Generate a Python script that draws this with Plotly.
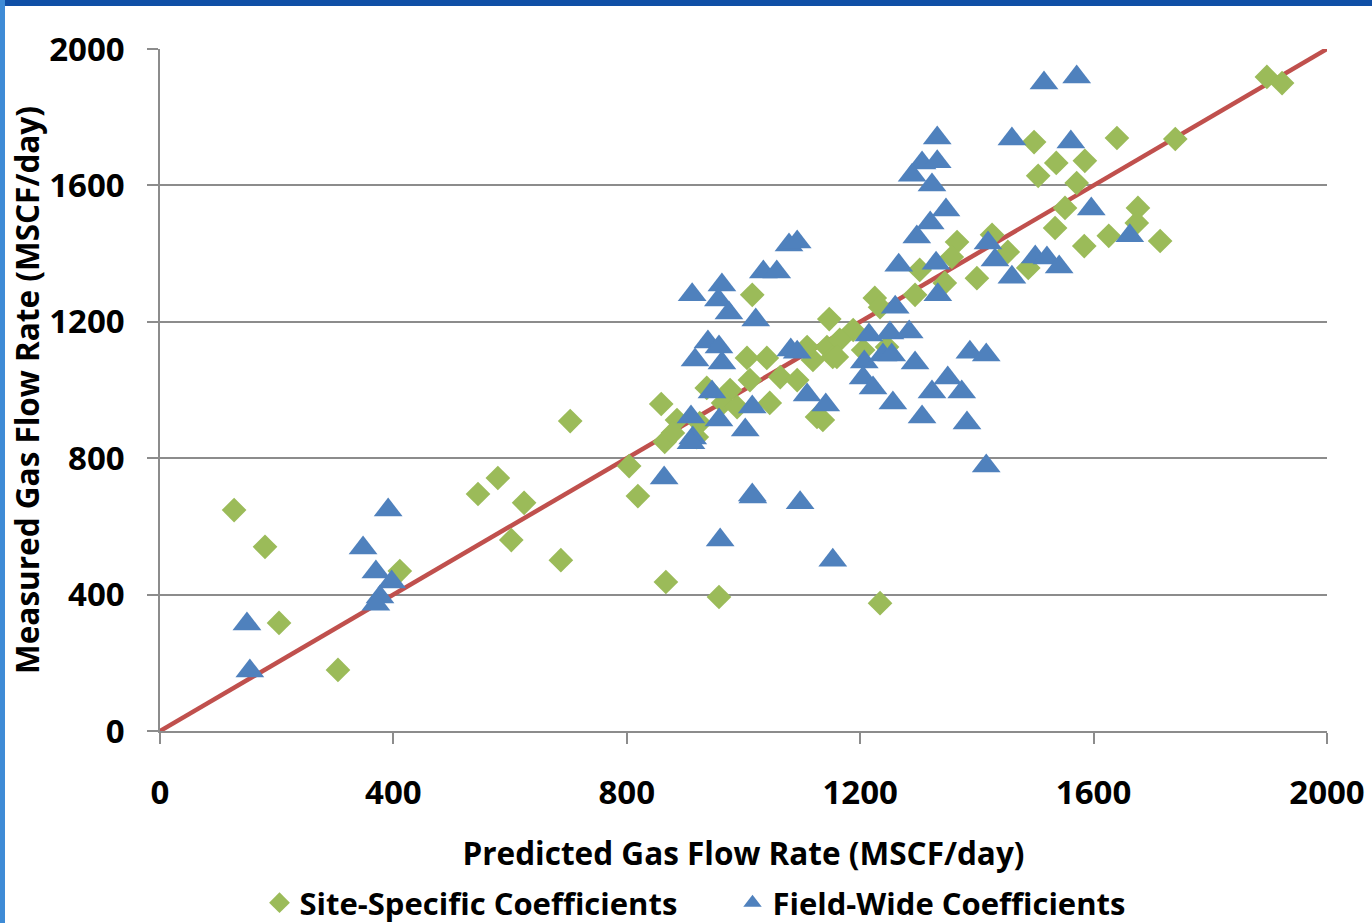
import plotly.graph_objects as go

# ---- data ----
site_x = [127, 180, 204, 305, 411, 545, 579, 624, 602, 687, 703, 804, 819, 867, 958, 1234,
          859, 865, 1015, 1147, 1045, 1126,
          1006, 1040, 1011, 977, 937, 965, 925, 886, 879, 920, 989, 1063, 1092, 1119, 1109, 1143, 1153,
          1225, 1234, 1294, 1345, 1400, 1188, 1165, 1160, 1205, 1246, 1136,
          1897, 1923, 1740, 1640, 1498, 1536, 1585, 1505, 1571, 1551, 1534, 1676, 1674, 1626, 1584, 1714,
          1366, 1426, 1453, 1357, 1302, 1488]
site_y = [648, 540, 317, 179, 469, 695, 742, 669, 560, 501, 909, 777, 689, 437, 393, 375,
          959, 848, 1279, 1208, 962, 921,
          1094, 1094, 1029, 1000, 1006, 962, 903, 912, 874, 862, 950, 1038, 1029, 1088, 1126, 1126, 1097,
          1270, 1243, 1279, 1314, 1328, 1176, 1147, 1097, 1117, 1126, 912,
          1918, 1900, 1736, 1739, 1727, 1666, 1672, 1628, 1607, 1534, 1475, 1534, 1490, 1452, 1422, 1437,
          1434, 1455, 1405, 1390, 1352, 1358]

field_x = [149, 154, 348, 370, 397, 377, 370, 391,
           912, 963, 957, 975, 1021, 1034, 1057, 1078, 1092, 1266, 1330, 1333, 1260,
           939, 958, 917, 963, 946, 910, 913, 910, 958, 1015, 1003, 1081, 1092, 1109, 1141,
           1215, 1251, 1284, 1207, 1239, 1254, 1294, 1205, 1222, 1256, 1306, 1323, 1350, 1374, 1383,
           864, 1015, 1016, 1097, 960, 1153,
           1431, 1460, 1500, 1520, 1541, 1388, 1416, 1416,
           1515, 1571, 1332, 1306, 1332, 1289, 1323, 1460, 1561, 1347, 1320, 1297, 1596, 1662, 1419]
field_y = [314, 176, 537, 466, 437, 393, 372, 648,
           1279, 1308, 1264, 1226, 1205, 1346, 1346, 1425, 1434, 1366, 1372, 1279, 1243,
           1141, 1126, 1088, 1079, 994, 921, 859, 845, 912, 950, 883, 1117, 1111, 985, 956,
           1161, 1167, 1170, 1082, 1103, 1103, 1079, 1035, 1006, 962, 921, 994, 1035, 994, 903,
           742, 692, 686, 669, 560, 501,
           1381, 1331, 1390, 1387, 1361, 1111, 1103, 777,
           1900, 1918, 1739, 1666, 1669, 1630, 1601, 1736, 1727, 1528, 1490, 1449, 1531, 1452, 1431]

line_x = [0, 2000]
line_y = [0, 2000]

x_ticks = [0, 400, 800, 1200, 1600, 2000]
y_ticks = [0, 400, 800, 1200, 1600, 2000]

GREEN = "#9BBB59"
BLUE = "#4F81BD"
RED = "#C0504D"
GRID = "#8C8C8C"
FONT = "Open Sans"

W, H = 1372, 923
ML, MR, MT, MB = 160, 45, 49, 192
pw, ph = W - ML - MR, H - MT - MB

fig = go.Figure()
fig.add_trace(go.Scatter(x=line_x, y=line_y, mode="lines",
                         line=dict(color=RED, width=4.5), showlegend=False, hoverinfo="skip"))
fig.add_trace(go.Scatter(x=site_x, y=site_y, mode="markers", name="Site-Specific Coefficients",
                         marker=dict(symbol="diamond", size=19, color=GREEN, line=dict(width=0))))
fig.add_trace(go.Scatter(x=field_x, y=field_y, mode="markers", name="Field-Wide Coefficients",
                         marker=dict(symbol="triangle-up", size=25, color=BLUE, line=dict(width=0))))

axis_font = dict(family=FONT, size=33, color="black", weight=700)
title_font = dict(family=FONT, size=31.5, color="black", weight=700)

fig.update_layout(
    width=W, height=H,
    margin=dict(l=ML, r=MR, t=MT, b=MB, autoexpand=False),
    paper_bgcolor="white", plot_bgcolor="white",
    font=dict(family=FONT),
    xaxis=dict(range=[0, 2000], tickvals=x_ticks, showgrid=False, zeroline=False,
               showline=True, linecolor=GRID, linewidth=1.5,
               ticks="outside", ticklen=11, tickcolor=GRID, tickwidth=1.5,
               tickfont=axis_font, ticklabelstandoff=21,
               title=dict(text="Predicted Gas Flow Rate (MSCF/day)", font=title_font, standoff=30),
               automargin=False),
    yaxis=dict(range=[0, 2000], tickvals=y_ticks, showgrid=True, gridcolor=GRID, gridwidth=1.5,
               zeroline=False, showline=True, linecolor=GRID, linewidth=1.5,
               ticks="outside", ticklen=11, tickcolor=GRID, tickwidth=1.5,
               tickfont=axis_font, ticklabelstandoff=16,
               title=dict(text="Measured Gas Flow Rate (MSCF/day)", font=title_font, standoff=0),
               automargin=False),
    legend=dict(orientation="h", x=0.5 - 11 / pw, xanchor="center", y=-(903 - (MT + ph)) / ph,
                yanchor="middle", font=dict(family=FONT, size=31, color="black", weight=700),
                bgcolor="rgba(0,0,0,0)", entrywidth=428, entrywidthmode="pixels",
                itemsizing="trace"),
    shapes=[
        dict(type="rect", xref="paper", yref="paper",
             x0=-ML / pw, x1=(W - ML) / pw, y0=1 + (MT - 6) / ph, y1=1 + MT / ph,
             fillcolor="#0F4FA6", line=dict(width=0), layer="above"),
        dict(type="rect", xref="paper", yref="paper",
             x0=-ML / pw, x1=(5 - ML) / pw, y0=-MB / ph, y1=1 + MT / ph,
             fillcolor="#3E8BD6", line=dict(width=0), layer="above"),
    ],
)

fig.write_html("out.html", config={"displayModeBar": False},
               post_script="document.body.style.margin='0';")
